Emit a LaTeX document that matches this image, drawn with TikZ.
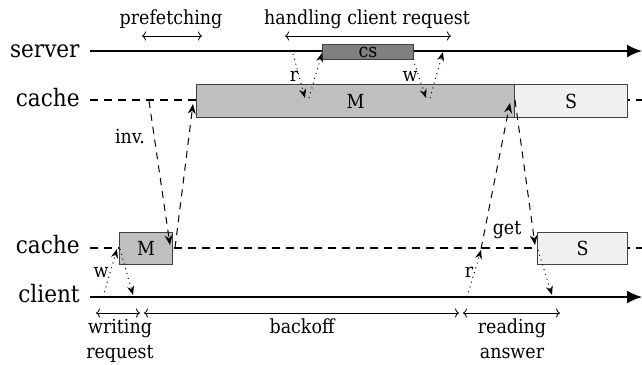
\documentclass[tikz,border=0pt]{standalone}
\usepackage{fontspec}
\setmainfont{DejaVu Serif Condensed}
\usetikzlibrary{arrows.meta}
\begin{document}
\begin{tikzpicture}[x=0.5pt,y=-0.5pt,
  axislabel/.style={anchor=base east,font=\fontsize{12}{14}\selectfont,inner sep=0pt},
  txt/.style={anchor=base,font=\fontsize{9.7}{11.5}\selectfont,inner sep=0pt},
  timeline/.style={line width=1pt,-{Latex[length=7.5pt,width=6.5pt]}},
  cacheline/.style={line width=0.8pt,dash pattern=on 4pt off 3pt},
  box/.style={draw=black!75,line width=0.5pt,anchor=north west,inner sep=0pt,
    minimum height=16.5pt,font=\fontsize{9.7}{11.5}\selectfont},
  span/.style={line width=0.4pt,{To[length=2pt,width=4.5pt]}-{To[length=2pt,width=4.5pt]}},
  rw/.style={dotted,line width=0.5pt,-{Stealth[length=4.5pt,width=3.5pt]}},
  msg/.style={dash pattern=on 3.5pt off 3pt,line width=0.5pt,-{Stealth[length=5pt,width=4pt]}}
]
\useasboundingbox (0,0) rectangle (642,364);

% process labels
\node[axislabel] (lserver) at (80,57) {server};
\node[axislabel] (lcacheA) at (80,106) {cache};
\node[axislabel] (lcacheB) at (80,253) {cache};
\node[axislabel] (lclient) at (80,302) {client};

% time lines
\coordinate (sA) at (90,51);   \coordinate (sB) at (642,51);
\coordinate (cA) at (90,100);  \coordinate (cB) at (642,100);
\coordinate (dA) at (90,248);  \coordinate (dB) at (642,248);
\coordinate (kA) at (90,297);  \coordinate (kB) at (642,297);
\draw[timeline] (sA) -- (sB);
\draw[cacheline] (cA) -- (cB);
\draw[cacheline] (dA) -- (dB);
\draw[timeline] (kA) -- (kB);

% cache line states
\node[box,fill=gray!50,minimum width=159pt] (topM) at (196,84) {M};
\node[box,fill=gray!12,minimum width=56.5pt] (topS) at (514,84) {S};
\node[box,fill=gray,minimum width=45.5pt,minimum height=7.5pt] (cs) at (322,44) {cs};
\node[box,fill=gray!50,minimum width=26.5pt,minimum height=16pt] (botM) at (119,232) {M};
\node[box,fill=gray!12,minimum width=45pt,minimum height=16pt] (botS) at (537,232) {S};

% server side read / write of the line
\coordinate (r1) at (293,54);  \coordinate (r2) at (305,98);
\coordinate (r3) at (309,98);  \coordinate (r4) at (322,53);
\coordinate (w1) at (413,59);  \coordinate (w2) at (426,98);
\coordinate (w3) at (430,98);  \coordinate (w4) at (443,52);
\draw[rw] (r1) -- (r2);
\draw[rw] (r3) -- (r4);
\draw[rw] (w1) -- (w2);
\draw[rw] (w3) -- (w4);
\node[txt] (lr) at (294,81) {r};
\node[txt] (lw) at (410,81) {w};

% invalidation and fetch of the line
\coordinate (i1) at (149,101); \coordinate (i2) at (170,245);
\coordinate (f1) at (175,248); \coordinate (f2) at (193,104);
\draw[msg] (i1) -- (i2);
\draw[msg] (f1) -- (f2);
\node[txt] (linv) at (130,143) {inv.};

\coordinate (g1) at (481,249); \coordinate (g2) at (510,103);
\coordinate (g3) at (515,100); \coordinate (g4) at (535,245);
\draw[msg] (g1) -- (g2);
\draw[msg] (g3) -- (g4);
\node[txt] (lget) at (507,234) {get};

% client side write and read
\coordinate (cw1) at (103,297); \coordinate (cw2) at (117,249);
\coordinate (cw3) at (120,249); \coordinate (cw4) at (133,295);
\draw[rw] (cw1) -- (cw2);
\draw[rw] (cw3) -- (cw4);
\node[txt] (lcw) at (101,277) {w};

\coordinate (cr1) at (467,297); \coordinate (cr2) at (481,250);
\coordinate (cr3) at (538,250); \coordinate (cr4) at (552,295);
\draw[rw] (cr1) -- (cr2);
\draw[rw] (cr3) -- (cr4);
\node[txt] (lcr) at (469,277) {r};

% phases on top
\coordinate (p1) at (142,36); \coordinate (p2) at (202,36);
\coordinate (h1) at (285,36); \coordinate (h2) at (451,36);
\draw[span] (p1) -- (p2);
\draw[span] (h1) -- (h2);
\node[txt] (lpref) at (171,25) {prefetching};
\node[txt] (lhand) at (367,25) {handling client request};

% phases at the bottom
\coordinate (b1) at (96,313);  \coordinate (b2) at (140,313);
\coordinate (b3) at (144,313); \coordinate (b4) at (459,313);
\coordinate (b5) at (463,313); \coordinate (b6) at (560,313);
\draw[span] (b1) -- (b2);
\draw[span] (b3) -- (b4);
\draw[span] (b5) -- (b6);
\node[txt] (lwrite) at (120,333) {writing};
\node[txt] (lwrite2) at (120,358) {request};
\node[txt] (lback) at (302,333) {backoff};
\node[txt] (lread) at (512,333) {reading};
\node[txt] (lread2) at (512,358) {answer};
\end{tikzpicture}
\end{document}
